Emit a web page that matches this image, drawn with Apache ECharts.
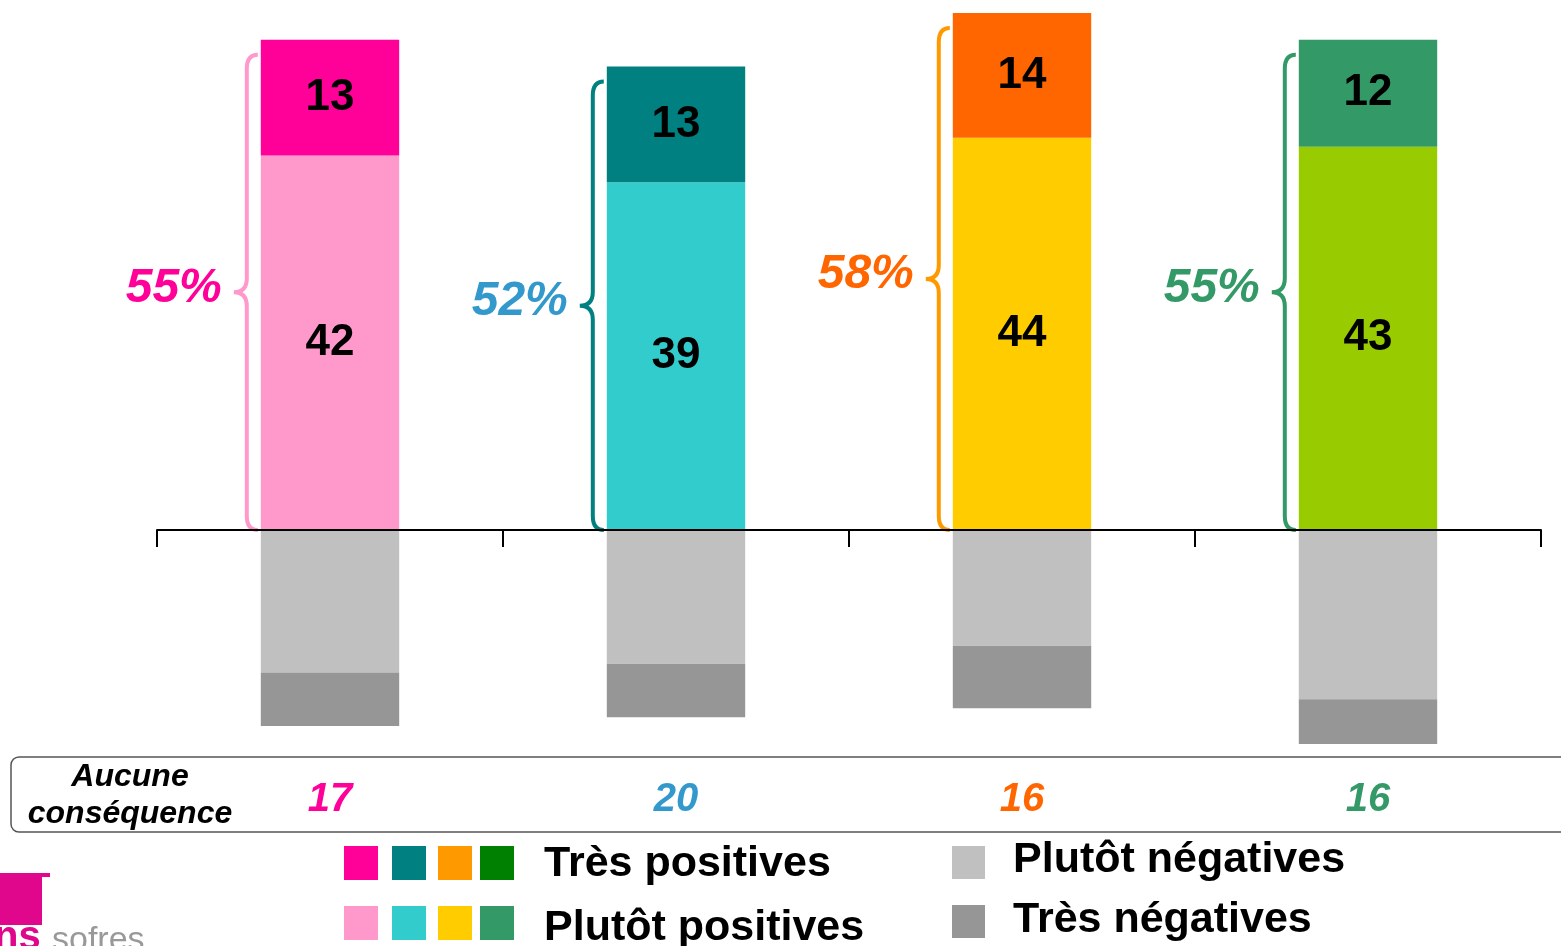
<!DOCTYPE html>
<html lang="fr">
    <head>
        <meta charset="utf-8">
        <title>Conséquences</title>
        <script src="https://cdn.jsdelivr.net/npm/echarts@6/dist/echarts.min.js"></script>
        <style>
            html, body { margin: 0; padding: 0; background: #fff; }
            #chart { width: 1561px; height: 946px; }
        </style>
    </head>
    <body>
        <div id="chart"></div>
        <script>
            // données
            var categories = ['1', '2', '3', '4'];
            var tresPositives = [13, 13, 14, 12];
            var plutotPositives = [42, 39, 44, 43];
            var plutotNegatives = [-16, -15, -13, -19];
            var tresNegatives = [-6, -6, -7, -5];
            var totalPositives = [55, 52, 58, 55];
            var aucuneConsequence = [17, 20, 16, 16];

            // couleurs
            var tresPosColors = ['#FF0099', '#008080', '#FF6600', '#339966'];
            var plutotPosColors = ['#FF99CC', '#33CCCC', '#FFCC00', '#99CC00'];
            var braceColors = ['#FF99CC', '#008080', '#FF9900', '#339966'];
            var pctColors = ['#FF0099', '#3399CC', '#FF6600', '#339966'];
            var font = '"Liberation Sans", Arial, sans-serif';

            var myChart = echarts.init(document.getElementById('chart'));

            // accolade + pourcentage
            function renderBrace(params, api) {
                var i = api.value(0);
                var total = api.value(1);
                var p0 = api.coord([i, 0]);
                var p1 = api.coord([i, total]);
                var half = api.size([1, 0])[0] * 0.2;
                var left = p0[0] - half;
                var top = p1[1] + 15;
                var bottom = p0[1];
                var mid = (top + bottom) / 2;
                var xr = left - 3, xv = left - 14, xm = left - 27, r = 14;
                var d = 'M' + xr + ',' + top +
                    ' Q' + xv + ',' + top + ' ' + xv + ',' + (top + r) +
                    ' L' + xv + ',' + (mid - r) +
                    ' Q' + xv + ',' + mid + ' ' + xm + ',' + mid +
                    ' Q' + xv + ',' + mid + ' ' + xv + ',' + (mid + r) +
                    ' L' + xv + ',' + (bottom - r) +
                    ' Q' + xv + ',' + bottom + ' ' + xr + ',' + bottom;
                return {
                    type: 'group',
                    children: [{
                        type: 'path',
                        shape: { pathData: d },
                        style: { stroke: braceColors[i], fill: null, lineWidth: 4 }
                    }, {
                        type: 'text',
                        style: {
                            text: total + '%',
                            x: xm - 12,
                            y: mid - 4,
                            align: 'right',
                            verticalAlign: 'middle',
                            fill: pctColors[i],
                            font: 'italic bold 48px ' + font
                        }
                    }]
                };
            }

            // valeurs "Aucune conséquence"
            function renderAucune(params, api) {
                var i = api.value(0);
                var p = api.coord([i, 0.5]);
                return {
                    type: 'text',
                    style: {
                        text: String(api.value(1)),
                        x: p[0],
                        y: p[1],
                        align: 'center',
                        verticalAlign: 'middle',
                        fill: pctColors[i],
                        font: 'italic bold 40px ' + font
                    }
                };
            }

            var legendGraphics = [];
            var legendRow1 = ['#FF0099', '#008080', '#FF9900', '#008000'];
            var legendRow2 = ['#FF99CC', '#33CCCC', '#FFCC00', '#339966'];
            var legendX = [344, 392, 438, 480];
            legendX.forEach(function(x, k) {
                legendGraphics.push({ type: 'rect', shape: { x: x, y: 846, width: 34, height: 34 }, style: { fill: legendRow1[k] } });
                legendGraphics.push({ type: 'rect', shape: { x: x, y: 906, width: 34, height: 34 }, style: { fill: legendRow2[k] } });
            });
            legendGraphics.push(
                { type: 'rect', shape: { x: 952, y: 846, width: 33, height: 33 }, style: { fill: '#C0C0C0' } },
                { type: 'rect', shape: { x: 952, y: 905, width: 33, height: 33 }, style: { fill: '#969696' } },
                { type: 'text', style: { text: 'Très positives', x: 544, y: 864, verticalAlign: 'middle', fill: '#000', font: 'bold 43px ' + font } },
                { type: 'text', style: { text: 'Plutôt positives', x: 544, y: 928, verticalAlign: 'middle', fill: '#000', font: 'bold 43px ' + font } },
                { type: 'text', style: { text: 'Plutôt négatives', x: 1013, y: 860, verticalAlign: 'middle', fill: '#000', font: 'bold 43px ' + font } },
                { type: 'text', style: { text: 'Très négatives', x: 1013, y: 920, verticalAlign: 'middle', fill: '#000', font: 'bold 43px ' + font } }
            );

            var option = {
                animation: false,
                backgroundColor: '#fff',
                grid: [
                    { left: 157, right: 20, top: 13, bottom: 193.2 },
                    { left: 157, right: 20, top: 762, height: 75 }
                ],
                xAxis: [{
                    type: 'category',
                    data: categories,
                    z: 10,
                    axisLine: { show: true, onZero: true, lineStyle: { color: '#000', width: 2 } },
                    axisTick: { show: true, alignWithLabel: false, interval: 0, length: 17, lineStyle: { color: '#000', width: 2 } },
                    axisLabel: { show: false },
                    splitLine: { show: false }
                }, {
                    type: 'category',
                    gridIndex: 1,
                    data: categories,
                    show: false
                }],
                yAxis: [{
                    type: 'value',
                    min: -25,
                    max: 58,
                    show: false,
                    splitLine: { show: false }
                }, {
                    type: 'value',
                    gridIndex: 1,
                    min: 0,
                    max: 1,
                    show: false
                }],
                graphic: [
                    { type: 'rect', shape: { x: 11, y: 757, width: 1600, height: 75, r: 8 }, style: { fill: null, stroke: '#555', lineWidth: 1.5 } },
                    { type: 'text', style: { text: 'Aucune', x: 130, y: 777, align: 'center', verticalAlign: 'middle', fill: '#000', font: 'italic bold 32px ' + font } },
                    { type: 'text', style: { text: 'conséquence', x: 130, y: 814, align: 'center', verticalAlign: 'middle', fill: '#000', font: 'italic bold 32px ' + font } },
                    // logo
                    { type: 'rect', shape: { x: 0, y: 873, width: 42, height: 52 }, style: { fill: '#E0078C' } },
                    { type: 'rect', shape: { x: 42, y: 873, width: 8, height: 4 }, style: { fill: '#E0078C' } },
                    { type: 'text', style: { text: 'ns', x: -6, y: 958, verticalAlign: 'bottom', fill: '#E0078C', font: 'bold 40px ' + font } },
                    { type: 'text', style: { text: 'sofres', x: 52, y: 958, verticalAlign: 'bottom', fill: '#999', font: '34px ' + font } }
                ].concat(legendGraphics),
                series: [{
                    name: 'Plutôt positives',
                    type: 'bar',
                    stack: 'total',
                    barWidth: '40%',
                    data: plutotPositives.map(function(v, i) {
                        return { value: v, itemStyle: { color: plutotPosColors[i] } };
                    }),
                    label: { show: true, position: 'inside', color: '#000', fontSize: 44, fontWeight: 'bold', fontFamily: font }
                }, {
                    name: 'Très positives',
                    type: 'bar',
                    stack: 'total',
                    data: tresPositives.map(function(v, i) {
                        return { value: v, itemStyle: { color: tresPosColors[i] } };
                    }),
                    label: { show: true, position: 'inside', color: '#000', fontSize: 44, fontWeight: 'bold', fontFamily: font }
                }, {
                    name: 'Plutôt négatives',
                    type: 'bar',
                    stack: 'total',
                    data: plutotNegatives,
                    itemStyle: { color: '#C0C0C0' }
                }, {
                    name: 'Très négatives',
                    type: 'bar',
                    stack: 'total',
                    data: tresNegatives,
                    itemStyle: { color: '#969696' }
                }, {
                    name: 'accolades',
                    type: 'custom',
                    renderItem: renderBrace,
                    data: totalPositives.map(function(v, i) { return [i, v]; }),
                    z: 5
                }, {
                    name: 'Aucune conséquence',
                    type: 'custom',
                    xAxisIndex: 1,
                    yAxisIndex: 1,
                    renderItem: renderAucune,
                    data: aucuneConsequence.map(function(v, i) { return [i, v]; })
                }]
            };
            myChart.setOption(option);
        </script>
    </body>
</html>
